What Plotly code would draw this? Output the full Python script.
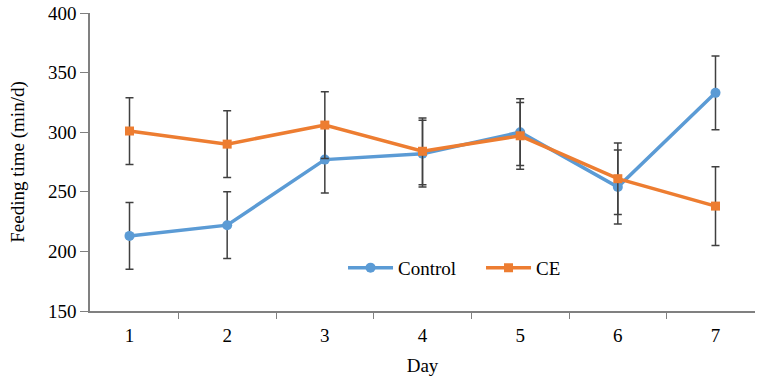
import plotly.graph_objects as go

days = ["1", "2", "3", "4", "5", "6", "7"]
control = [213, 222, 277, 282, 300, 254, 333]
control_err = [28, 28, 28, 28, 28, 31, 31]
ce = [301, 290, 306, 284, 297, 261, 238]
ce_err = [28, 28, 28, 28, 28, 30, 33]

font_family = "Liberation Serif, Times New Roman, serif"

fig = go.Figure()
fig.add_trace(go.Scatter(
    x=days, y=control, name="Control", mode="lines+markers",
    line=dict(color="#5B9BD5", width=3.5),
    marker=dict(symbol="circle", size=10, color="#5B9BD5"),
    error_y=dict(type="data", array=control_err, visible=True,
                 color="#404040", thickness=1.5, width=4),
))
fig.add_trace(go.Scatter(
    x=days, y=ce, name="CE", mode="lines+markers",
    line=dict(color="#ED7D31", width=3.5),
    marker=dict(symbol="square", size=9, color="#ED7D31"),
    error_y=dict(type="data", array=ce_err, visible=True,
                 color="#404040", thickness=1.5, width=4),
))

fig.update_layout(
    width=765, height=383,
    margin=dict(l=90, r=10, t=13, b=72),
    paper_bgcolor="white", plot_bgcolor="white",
    font=dict(family=font_family, size=19, color="black"),
    showlegend=True,
    legend=dict(orientation="h", x=0.588, y=0.145, xanchor="center", yanchor="middle",
                bgcolor="rgba(0,0,0,0)", font=dict(size=19), itemwidth=45,
                entrywidth=78),
    xaxis=dict(
        type="category", title=dict(text="Day", font=dict(size=19), standoff=14),
        showline=True, linecolor="#808080", linewidth=1.5,
        ticks="outside", tickson="boundaries", ticklen=6, tickcolor="#808080",
        ticklabelstandoff=6,
        showgrid=False, zeroline=False, automargin=False,
    ),
    yaxis=dict(
        range=[150, 400], dtick=50,
        title=dict(text="Feeding time (min/d)", font=dict(size=19), standoff=18),
        showline=True, linecolor="#808080", linewidth=1.5,
        ticks="outside", ticklen=8, tickcolor="#808080",
        showgrid=False, zeroline=False, automargin=False,
    ),
)

fig.write_html("out.html", config={"displayModeBar": False},
               post_script="document.body.style.margin='0';")
